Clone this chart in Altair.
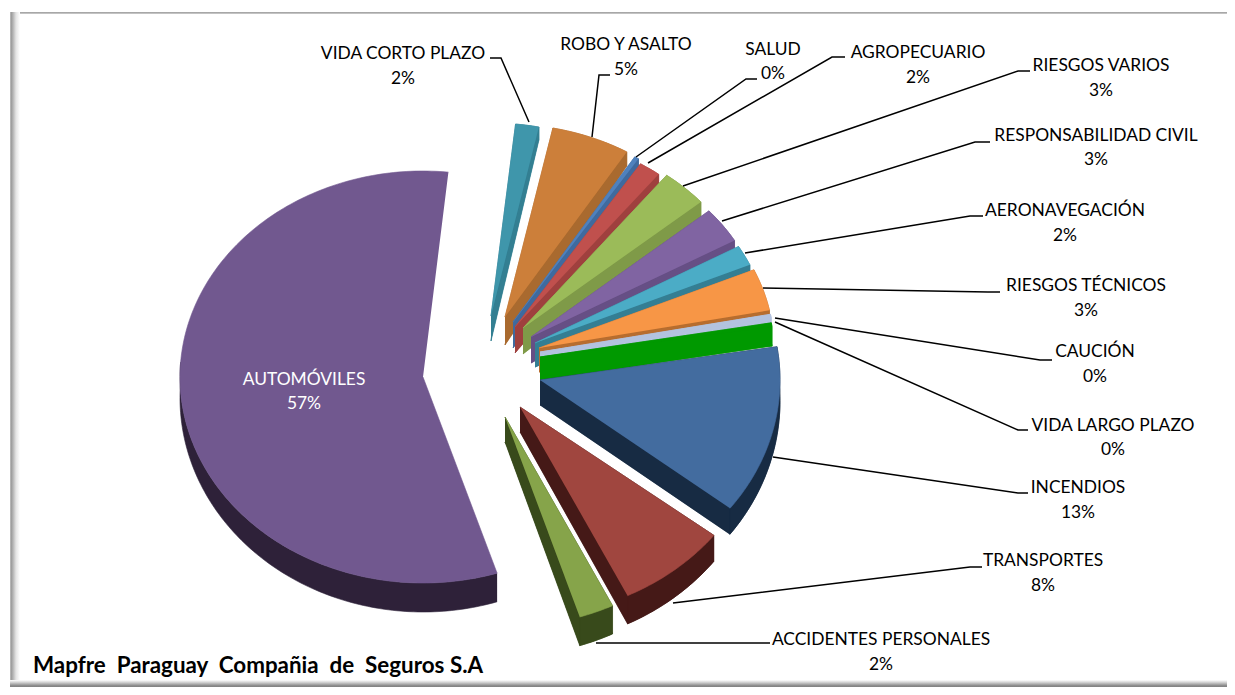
import numpy as np
import pandas as pd
import altair as alt

# Slices in clockwise order, starting just right of twelve o'clock
names = ["VIDA CORTO PLAZO", "ROBO Y ASALTO", "SALUD", "AGROPECUARIO", "RIESGOS VARIOS",
         "RESPONSABILIDAD CIVIL", "AERONAVEGACIÓN", "RIESGOS TÉCNICOS", "CAUCIÓN",
         "VIDA LARGO PLAZO", "INCENDIOS", "TRANSPORTES", "ACCIDENTES PERSONALES", "AUTOMÓVILES"]
shares = [1.6, 5.4, 0.3, 1.5, 3.2, 3.0, 1.7, 3.5, 0.3, 0.3, 13.0, 7.3, 2.3, 56.6]
shown = ["2%", "5%", "0%", "2%", "3%", "3%", "2%", "3%", "0%", "0%", "13%", "8%", "2%", "57%"]
face = ["#3F96AB", "#CC7F3A", "#4F81BD", "#C0504D", "#9BBB59", "#8064A2", "#4BACC6", "#F79646",
        "#B3C3DF", "#009900", "#436C9F", "#A0463F", "#86A44A", "#71588F"]
wall = ["#337F92", "#A96A2F", "#3F6A9E", "#9F403E", "#7F9A48", "#664F85", "#347E93", "#B76D2F",
        "#B3C3DF", "#009900", "#172B43", "#451917", "#384A1B", "#2E2139"]

# Layout of the exploded perspective pie (page pixels)
START_ANGLE = -84.0
apex_x = [491, 505, 513, 515, 523, 531, 535, 539, 540, 540, 540, 520, 505, 423]
apex_y = [316, 317, 322, 327, 328, 337, 343, 348, 352, 357, 380, 407, 417, 377]
rad_x = [235] * 10 + [240, 245, 245, 243]
rad_y = [193] * 10 + [210, 210, 210, 206]
apex_depth = [25, 28, 26, 26, 26, 26, 24, 24, 20, 23, 25, 25, 25, 25]

label_x = [403, 626, 773, 918, 1101, 1096, 1065, 1086, 1095, 1113, 1078, 1043, 881, 304]
label_y = [54, 45, 50, 53, 66, 136, 211, 286, 352, 426, 488, 561, 640, 380]
value_y = [79, 70, 74, 78, 91, 160, 236, 311, 377, 450, 513, 586, 665, 404]
label_color = ["#000000"] * 13 + ["#FFFFFF"]

leaders = [
    [(490, 58), (501, 58), (529, 122)],
    [(610, 75), (599, 75), (592, 137)],
    [(757, 79), (746, 79), (636, 157)],
    [(845, 57), (832, 57), (648, 163)],
    [(1030, 71), (1018, 71), (683, 186)],
    [(990, 142), (975, 142), (722, 221)],
    [(983, 216), (970, 216), (745, 253)],
    [(1000, 292), (988, 292), (763, 288)],
    [(1052, 360), (1040, 360), (775, 318)],
    [(1028, 430), (1018, 430), (775, 322)],
    [(1028, 493), (1018, 493), (773, 457)],
    [(982, 567), (970, 567), (673, 603)],
    [(770, 643), (596, 643)],
]

# ---- polygons derived from the shares
rows = []
poly_id = [0]


def add(points, color):
    pid = f"p{poly_id[0]:04d}"
    poly_id[0] += 1
    for i, (px, py) in enumerate(points):
        rows.append({"poly": pid, "i": i, "px": float(px), "py": float(py), "color": color})


bounds = START_ANGLE + np.cumsum([0] + shares) * 3.6
last = len(names) - 1
for k in range(len(names)):
    deg = np.linspace(bounds[k], bounds[k + 1], max(3, int(shares[k] * 3.6) + 2))
    th = np.radians(deg)
    ax, ay = apex_x[k], apex_y[k]
    rx_top = ax + rad_x[k] * np.cos(th)
    ry_top = ay + rad_y[k] * np.sin(th)
    depth = 21 + 8 * np.sin(th)
    ry_bot = ry_top + depth
    bx, by = ax, ay + apex_depth[k]
    top_rim = list(zip(rx_top, ry_top))
    bot_rim = list(zip(rx_top, ry_bot))
    if k != last:
        add([(bx, by)] + bot_rim, wall[k])
        add([(ax, ay), top_rim[0], bot_rim[0], (bx, by)], wall[k])
        add([(ax, ay), top_rim[-1], bot_rim[-1], (bx, by)], wall[k])
        add(top_rim + bot_rim[::-1], wall[k])
    else:
        front = deg <= 185
        add([p for p, f in zip(top_rim, front) if f] + [p for p, f in zip(bot_rim, front) if f][::-1], wall[k])
    add([(ax, ay)] + top_rim, face[k])
polys = pd.DataFrame(rows)

X = alt.Scale(domain=[8, 1227], nice=False, zero=False)
Y = alt.Scale(domain=[687, 8], nice=False, zero=False)
x = alt.X("px:Q", scale=X, axis=None)
y = alt.Y("py:Q", scale=Y, axis=None)

pie = alt.Chart(polys).mark_line(fill="#000000", strokeWidth=0.6, clip=False, interpolate="linear").encode(
    x=x, y=y,
    detail="poly:N",
    order="i:Q",
    fill=alt.Fill("color:N", scale=None),
    stroke=alt.Stroke("color:N", scale=None),
)

lead_rows = []
for k, pts in enumerate(leaders):
    for i, (px, py) in enumerate(pts):
        lead_rows.append({"k": k, "i": i, "px": px, "py": py})
leader_chart = alt.Chart(pd.DataFrame(lead_rows)).mark_line(color="#000000", strokeWidth=1.5).encode(
    x=x, y=y, detail="k:N", order="i:Q")

text_df = pd.DataFrame(
    [{"px": label_x[k], "py": label_y[k], "t": names[k], "c": label_color[k]} for k in range(len(names))]
    + [{"px": label_x[k], "py": value_y[k], "t": shown[k], "c": label_color[k]} for k in range(len(names))]
)
labels = alt.Chart(text_df).mark_text(font="Lato", fontSize=17.4, align="center", baseline="middle").encode(
    x=x, y=y, text="t:N", color=alt.Color("c:N", scale=None))

footer = alt.Chart(pd.DataFrame({"px": [33], "py": [666],
                                 "t": ["Mapfre\u00a0 Paraguay\u00a0 Compañia\u00a0 de\u00a0 Seguros S.A"]})).mark_text(
    font="Lato", fontSize=22.4, fontWeight="bold", align="left", baseline="middle", color="#000000"
).encode(x=x, y=y, text="t:N")


def band(x0, x1, y0, y1, stops, horizontal):
    g = alt.Gradient(gradient="linear",
                     stops=[alt.GradientStop(color=c, offset=o) for o, c in stops],
                     x1=0, y1=0, x2=1 if horizontal else 0, y2=0 if horizontal else 1)
    return alt.Chart(pd.DataFrame({"a": [x0], "b": [x1], "c": [y0], "d": [y1]})).mark_rect(color=g).encode(
        x=alt.X("a:Q", scale=X, axis=None), x2="b:Q",
        y=alt.Y("c:Q", scale=Y, axis=None), y2="d:Q")


frame = alt.layer(
    band(10, 1227, 12, 14, [(0, "#9A9A9A"), (1, "#D0D0D0")], False),
    band(10, 20, 12, 687, [(0, "#C8C8C8"), (0.12, "#9A9A9A"), (0.3, "#B4B4B4"), (0.6, "#E4E4E4"), (1, "#FFFFFF")], True),
    band(10, 1227, 680, 687, [(0, "#FFFFFF"), (0.3, "#D8D8D8"), (0.8, "#8C8C8C"), (1, "#808080")], False),
)

chart = alt.layer(frame, pie, leader_chart, labels, footer).properties(
    width=1219, height=679, padding=0,
    autosize=alt.AutoSizeParams(type="none"),
    background="#FFFFFF",
).configure_view(stroke=None)

chart.save("out.html", embed_options={"renderer": "svg", "actions": False})
